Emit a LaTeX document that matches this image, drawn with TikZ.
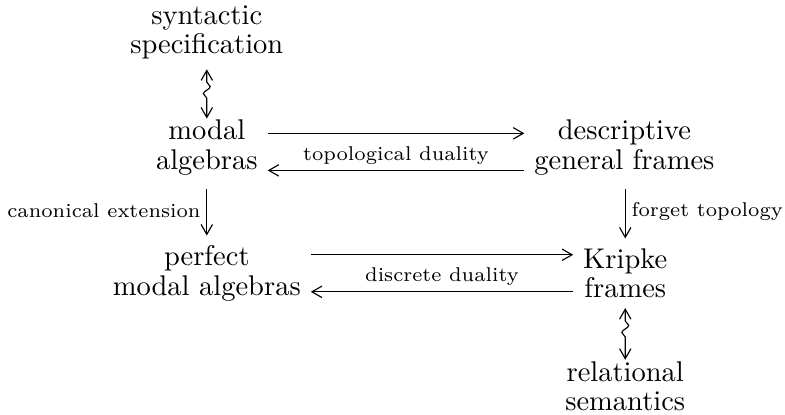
\documentclass[tikz,border=0pt]{standalone}
\usetikzlibrary{decorations.pathmorphing,arrows.meta}

\begin{document}
\begin{tikzpicture}[>={Straight Barb[length=3.5pt,width=4pt]},
  obj/.style={align=center, font=\fontsize{10}{10.3}\selectfont},
  lbl/.style={font=\scriptsize, inner sep=2pt},
  squig/.style={<->, decorate, decoration={snake, amplitude=1.2pt, segment length=5pt, pre length=4.5pt, post length=4pt}}]

\useasboundingbox (0,0) rectangle (9.68,-5.11);

% Objects
\node[obj] (syn)  at (2.55,-0.40) {syntactic\\specification};
\node[obj] (mod)  at (2.55,-1.82) {modal\\algebras};
\node[obj] (desc) at (7.70,-1.82) {descriptive\\general frames};
\node[obj] (perf) at (2.55,-3.37) {perfect\\modal algebras};
\node[obj] (krip) at (7.71,-3.37) {Kripke\\frames};
\node[obj] (rel)  at (7.71,-4.76) {relational\\semantics};

% Topological duality
\draw[->] ([yshift=5pt]mod.east) -- ([yshift=5pt]desc.west);
\draw[->] ([yshift=-8pt]desc.west) -- ([yshift=-8pt]mod.east)
  node[lbl, midway, above] {topological duality};

% Discrete duality
\draw[->] ([yshift=6.5pt]perf.east) -- ([yshift=6.5pt]krip.west);
\draw[->] ([yshift=-6.5pt]krip.west) -- ([yshift=-6.5pt]perf.east)
  node[lbl, midway, above] {discrete duality};

% Vertical arrows
\draw[->, shorten <=1.5pt] (mod) -- (perf) node[lbl, midway, left] {canonical extension};
\draw[->, shorten <=1.5pt] (desc.south -| krip) -- (krip) node[lbl, midway, right] {forget topology};

% Squiggly arrows
\draw[squig, shorten >=-3pt] (syn) -- (mod);
\draw[squig, shorten >=-3pt] (krip) -- (rel);

\end{tikzpicture}
\end{document}
